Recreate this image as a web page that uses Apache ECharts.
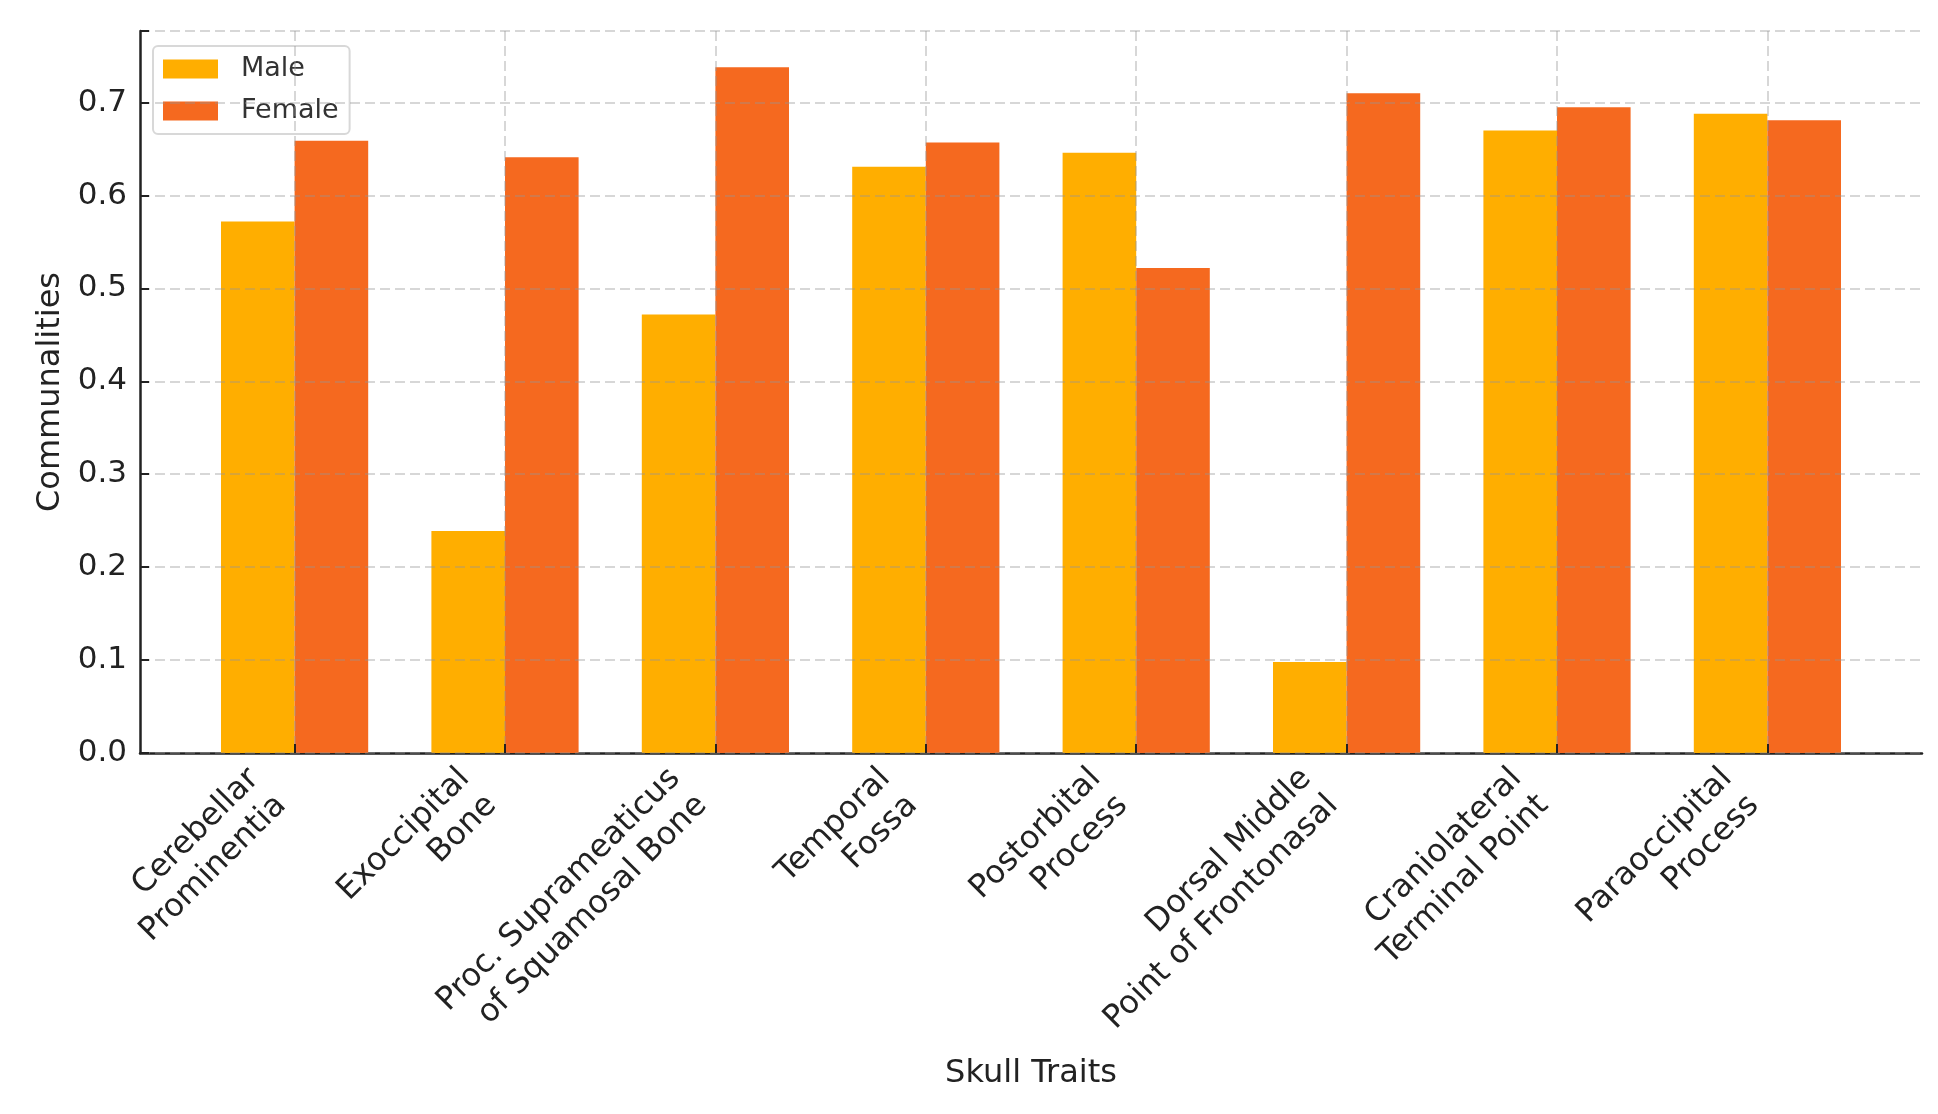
<!DOCTYPE html>
<html>
<head>
<meta charset="utf-8">
<script src="https://cdn.jsdelivr.net/npm/echarts@6/dist/echarts.min.js"></script>
<style>
html,body{margin:0;padding:0;background:#fff;}
#chart{width:1938px;height:1114px;}
</style>
</head>
<body>
<div id="chart"></div>
<script>
const categories = [
  'Cerebellar\nProminentia',
  'Exoccipital\nBone',
  'Proc. Suprameaticus\nof Squamosal Bone',
  'Temporal\nFossa',
  'Postorbital\nProcess',
  'Dorsal Middle\nPoint of Frontonasal',
  'Craniolateral\nTerminal Point',
  'Paraoccipital\nProcess'
];
const maleValues = [0.572, 0.239, 0.472, 0.631, 0.646, 0.098, 0.670, 0.688];
const femaleValues = [0.659, 0.641, 0.738, 0.657, 0.522, 0.710, 0.695, 0.681];
const yTicks = [0.0, 0.1, 0.2, 0.3, 0.4, 0.5, 0.6, 0.7];

const FONT = 'DejaVu Sans';
const yMax = 0.777;
const gridLine = { color: 'rgba(150,150,150,0.5)', width: 1.5, type: [10, 5] };

const chart = echarts.init(document.getElementById('chart'));
chart.setOption({
  backgroundColor: '#ffffff',
  animation: false,
  textStyle: { fontFamily: FONT },
  legend: {
    left: 153, top: 46,
    orient: 'vertical',
    data: ['Male', 'Female'],
    itemWidth: 55, itemHeight: 19, itemGap: 14,
    padding: [9, 11, 9, 10],
    borderColor: '#d8d8d8', borderWidth: 2, borderRadius: 5,
    backgroundColor: 'rgba(255,255,255,0.8)',
    icon: 'rect',
    textStyle: { fontFamily: FONT, fontSize: 27, color: '#333', padding: [0, 0, 0, 18], lineHeight: 28 }
  },
  grid: [
    { left: 140, right: 16, top: 31, bottom: 361, containLabel: false },
    { left: 189.4, right: 65.4, top: 31, bottom: 361, containLabel: false }
  ],
  xAxis: [
    {
      gridIndex: 0, type: 'value', min: 0, max: 1,
      axisLine: { show: true, lineStyle: { color: '#222', width: 2.5 } },
      axisTick: { show: false }, axisLabel: { show: false }, splitLine: { show: false },
      name: 'Skull Traits', nameLocation: 'middle', nameGap: 305,
      nameTextStyle: { fontFamily: FONT, fontSize: 32, color: '#222' }
    },
    {
      gridIndex: 1, type: 'category', data: categories, z: 5,
      axisLine: { show: false },
      axisTick: { show: true, inside: true, alignWithLabel: true, length: 9, lineStyle: { color: '#222', width: 2 } },
      splitLine: { show: true, alignWithLabel: true, lineStyle: gridLine },
      axisLabel: {
        interval: 0, rotate: 45, margin: 61,
        fontFamily: FONT, fontSize: 32, color: '#222', lineHeight: 38,
        align: 'right', verticalAlign: 'bottom'
      }
    }
  ],
  yAxis: [
    {
      gridIndex: 0, type: 'value', min: 0, max: yMax, interval: 0.1, z: 5,
      axisLine: { show: true, lineStyle: { color: '#222', width: 2.5 } },
      axisTick: { show: true, inside: true, length: 9, lineStyle: { color: '#222', width: 2 } },
      splitLine: { show: true, lineStyle: gridLine },
      axisLabel: {
        fontFamily: FONT, fontSize: 31, color: '#222', margin: 13,
        formatter: v => { const t = yTicks.find(x => Math.abs(x - v) < 1e-6); return t === undefined ? '' : t.toFixed(1); }
      },
      name: 'Communalities', nameLocation: 'middle', nameGap: 71,
      nameTextStyle: { fontFamily: FONT, fontSize: 32, color: '#222' }
    },
    {
      gridIndex: 1, type: 'value', min: 0, max: yMax, interval: 0.1, show: false,
      splitLine: { show: false }
    }
  ],
  series: [
    {
      name: 'Male', type: 'bar', xAxisIndex: 1, yAxisIndex: 1,
      data: maleValues, barWidth: 73.6, barGap: '0%',
      itemStyle: { color: '#FFAE00' }
    },
    {
      name: 'Female', type: 'bar', xAxisIndex: 1, yAxisIndex: 1,
      data: femaleValues, barWidth: 73.6, barGap: '0%',
      itemStyle: { color: '#F5691F' }
    }
  ]
});
</script>
</body>
</html>
